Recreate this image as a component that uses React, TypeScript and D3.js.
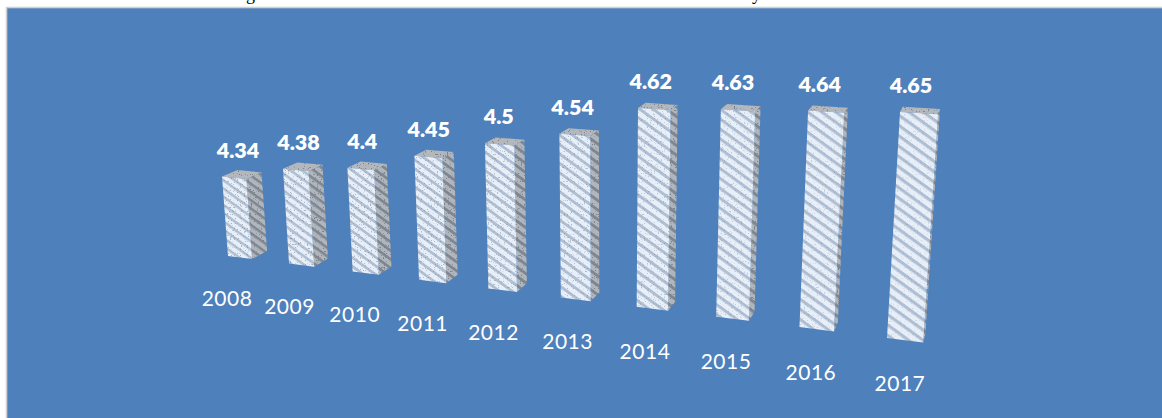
import React from "react";
import * as d3 from "d3";

// Level recorded for each year.
const years = ["2008", "2009", "2010", "2011", "2012", "2013", "2014", "2015", "2016", "2017"];
const levels = [4.34, 4.38, 4.4, 4.45, 4.5, 4.54, 4.62, 4.63, 4.64, 4.65];
const valueLabels = ["4.34", "4.38", "4.4", "4.45", "4.5", "4.54", "4.62", "4.63", "4.64", "4.65"];

const WIDTH = 1162;
const HEIGHT = 418;
const BLUE = "#4e80bc";
const LABEL_FONT = "Lato, Carlito, Calibri, sans-serif";

// Unit-square to screen homography for the front plane of the tilted 3D chart.
type Pt = [number, number];
function makeHomography(p0: Pt, p1: Pt, p2: Pt, p3: Pt) {
  const dx1 = p1[0] - p2[0], dx2 = p3[0] - p2[0], sx = p0[0] - p1[0] + p2[0] - p3[0];
  const dy1 = p1[1] - p2[1], dy2 = p3[1] - p2[1], sy = p0[1] - p1[1] + p2[1] - p3[1];
  const den = dx1 * dy2 - dx2 * dy1;
  const g = (sx * dy2 - dx2 * sy) / den;
  const h = (dx1 * sy - sx * dy1) / den;
  const a = p1[0] - p0[0] + g * p1[0], b = p3[0] - p0[0] + h * p3[0], c = p0[0];
  const d = p1[1] - p0[1] + g * p1[1], e = p3[1] - p0[1] + h * p3[1], f = p0[1];
  return (u: number, v: number): Pt => {
    const w = g * u + h * v + 1;
    return [(a * u + b * v + c) / w, (d * u + e * v + f) / w];
  };
}

const project = makeHomography([228, 256], [887, 338], [900, 112], [214, 70]);
const uScale = d3.scaleLinear().domain([0, years.length - 1]).range([0, 1]);
const vScale = d3.scaleLinear().domain([4.1, 4.65]).range([0, 1]);
const BAR_SPAN = 0.4;

// Depth recedes toward a single vanishing point.
const VANISH: Pt = [1040, -160];
const DEPTH = 0.019;
const recede = (p: Pt): Pt => [p[0] + (VANISH[0] - p[0]) * DEPTH, p[1] + (VANISH[1] - p[1]) * DEPTH];

const hatchScale = d3.scaleLinear().domain([0, 9]).range([0.95, 1.2]);
const grainOpacity = d3.scaleLinear().domain([0, 5, 9]).range([0.55, 0.45, 0.2]);
const outline = d3.line().curve(d3.curveLinearClosed);

function Bar({ i, value }: { i: number; value: number }) {
  const bl = project(uScale(i), 0);
  const br = project(uScale(i + BAR_SPAN), 0);
  const tl = project(uScale(i), vScale(value));
  const tr = project(uScale(i + BAR_SPAN), vScale(value));
  const top = outline([tl, tr, recede(tr), recede(tl)])!;
  const side = outline([br, tr, recede(tr), recede(br)])!;
  const front = outline([bl, br, tr, tl])!;
  return (
    <g filter="url(#soft)">
      <path d={top} fill="#b4b8bd" />
      <path d={top} fill="#000" filter="url(#grain)" />
      <path d={side} fill={`url(#sideHatch${i})`} />
      <path d={side} fill="#000" filter="url(#grain)" />
      <path d={front} fill={`url(#hatch${i})`} />
      <path d={front} fill="#000" filter="url(#grain)" opacity={grainOpacity(i)} />
    </g>
  );
}

export default function App() {
  return (
    <svg
      width={WIDTH}
      height={HEIGHT}
      viewBox={`0 0 ${WIDTH} ${HEIGHT}`}
      style={{ position: "absolute", left: 0, top: 0, display: "block", background: "#fff" }}
    >
      <defs>
        <filter id="soft" x="-10%" y="-10%" width="120%" height="120%">
          <feGaussianBlur stdDeviation="0.5" />
        </filter>
        <filter id="grain" x="0" y="0" width="1" height="1">
          <feTurbulence type="fractalNoise" baseFrequency="0.7" numOctaves={2} seed={4} />
          <feColorMatrix
            type="matrix"
            values="0 0 0 0 0.2  0 0 0 0 0.22  0 0 0 0 0.25  9 0 0 0 -5.6"
          />
          <feComposite in2="SourceGraphic" operator="in" />
        </filter>
        {years.map((_, i) => (
          <React.Fragment key={i}>
            <pattern
              id={`hatch${i}`}
              patternUnits="userSpaceOnUse"
              width={8}
              height={7}
              patternTransform={`rotate(36) scale(${hatchScale(i)})`}
            >
              <rect width={8} height={7} fill="#e8eff8" />
              <rect width={8} height={2.6} fill="#aebfd4" />
            </pattern>
            <pattern
              id={`sideHatch${i}`}
              patternUnits="userSpaceOnUse"
              width={8}
              height={7}
              patternTransform={`rotate(36) scale(${hatchScale(i)})`}
            >
              <rect width={8} height={7} fill="#b0b6be" />
              <rect width={8} height={2.6} fill="#7f8690" />
            </pattern>
          </React.Fragment>
        ))}
      </defs>

      {/* Chart panel with its pale left and top edges */}
      <rect x={6.5} y={7.5} width={WIDTH} height={HEIGHT} fill={BLUE} stroke="#cfd0d2" strokeWidth={1.6} />

      {/* Line of body text running above the panel */}
      <text x={255} y={0.4} textAnchor="end" fontFamily="'Liberation Serif', serif" fontSize={18} fill="#000">
        For the sector rating
      </text>
      <text
        x={262}
        y={0.4}
        fontFamily="'Liberation Serif', serif"
        fontSize={18}
        fill="#000"
        textLength={506}
        lengthAdjust="spacing"
      >
        and 3 shows the level of local market annually.
      </text>

      {levels.map((value, i) => (
        <Bar key={years[i]} i={i} value={value} />
      ))}

      {levels.map((value, i) => {
        const [x, y] = project(uScale(i), vScale(value));
        return (
          <text
            key={years[i]}
            x={x + 16 - i * 0.55}
            y={y - 19}
            textAnchor="middle"
            fontFamily={LABEL_FONT}
            fontWeight={800}
            fontSize={21.5}
            fill="#fff"
          >
            {valueLabels[i]}
          </text>
        );
      })}

      {years.map((year, i) => {
        const [x, y] = project(uScale(i), 0);
        return (
          <text
            key={year}
            x={x - 1 + i * 1.55}
            y={y + 50 + i * 0.35}
            textAnchor="middle"
            fontFamily={LABEL_FONT}
            fontSize={21}
            letterSpacing={0.5}
            fill="#fff"
          >
            {year}
          </text>
        );
      })}
    </svg>
  );
}
